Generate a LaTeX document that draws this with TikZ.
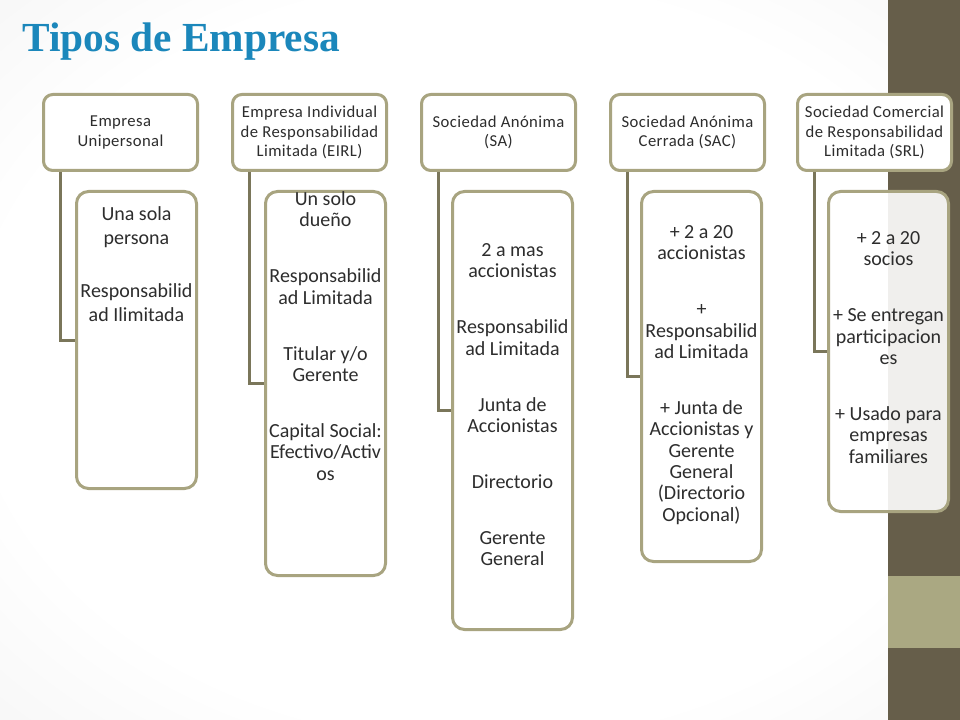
\documentclass[tikz,border=0pt]{standalone}
\usepackage{fontspec}
\setmainfont{Carlito}
\newfontfamily\titlefont{Liberation Serif}
\newfontfamily\hdrfont[LetterSpace=2.5]{Carlito}
\usepackage{xcolor}
\usetikzlibrary{positioning}

\definecolor{tituloazul}{RGB}{27,135,187}
\definecolor{bordeoliva}{RGB}{168,164,128}
\definecolor{lineaoliva}{RGB}{122,118,90}
\definecolor{barraoscura}{RGB}{102,94,74}
\definecolor{barraclara}{RGB}{170,168,130}
\definecolor{textogris}{RGB}{45,45,45}
\definecolor{fondomedio}{RGB}{236,236,236}
\definecolor{fondoborde}{RGB}{198,198,198}

\pgfdeclareradialshading{fondo}{\pgfpoint{0bp}{0bp}}{color(0bp)=(white); color(26bp)=(white); color(50bp)=(fondomedio); color(71bp)=(fondoborde)}

\begin{document}
\begin{tikzpicture}[
    x=0.75pt, y=-0.75pt,
    hdr/.style={
        draw=bordeoliva,
        line width=2.25pt,
        rounded corners=7pt,
        fill=white,
        minimum width=115.5pt,
        minimum height=57pt,
        inner sep=1pt,
        align=center,
        text=textogris,
        font=\hdrfont\fontsize{12.5}{14.5}\selectfont
    },
    det/.style={
        draw=bordeoliva,
        line width=2.25pt,
        rounded corners=9pt,
        fill=white,
        fill opacity=0.9,
        minimum width=90pt
    },
    dtxt/.style={
        align=center,
        inner sep=0pt,
        text=textogris,
        font=\fontsize{15}{16}\selectfont
    },
    link/.style={
        draw=lineaoliva,
        line width=2.25pt
    }
]

%-------------------------------------------------
% Slide background
%-------------------------------------------------

\useasboundingbox (0,0) rectangle (960,720);
\shade[shading=fondo] (0,0) rectangle (960,720);
\fill[barraoscura] (888,0) rectangle (960,720);
\fill[barraclara] (888,576) rectangle (960,648);

\node[anchor=base west, inner sep=0pt, text=tituloazul,
      font=\titlefont\bfseries\fontsize{31}{36}\selectfont] (titulo) at (22,52)
{Tipos de Empresa};

%-------------------------------------------------
% Empresa Unipersonal
%-------------------------------------------------

\node[hdr, anchor=north west] (h1) at (42,93) {Empresa\\Unipersonal};
\node[det, anchor=north west, minimum height=222.75pt] (d1) at ([shift={(33,18)}]h1.south west) {};
\draw[link] ([xshift=13.5pt]h1.south west) |- (d1.west);
\node[dtxt, font=\fontsize{15}{18}\selectfont, below=12pt of d1.north] (t1)
{Una sola\\persona\\[21.75pt]
Responsabilid\\ad Ilimitada};

%-------------------------------------------------
% EIRL
%-------------------------------------------------

\node[hdr, anchor=north west] (h2) at (231,93) {Empresa Individual\\de Responsabilidad\\Limitada (EIRL)};
\node[det, anchor=north west, minimum height=288pt] (d2) at ([shift={(33,18)}]h2.south west) {};
\draw[link] ([xshift=13.5pt]h2.south west) |- (d2.west);
\node[dtxt, below=1pt of d2.north] (t2)
{Un solo\\due\~no\\[26pt]
Responsabilid\\ad Limitada\\[26pt]
Titular y/o\\Gerente\\[26pt]
Capital Social:\\Efectivo/Activ\\os};

%-------------------------------------------------
% Sociedad Anonima
%-------------------------------------------------

\node[hdr, anchor=north west] (h3) at (420,93) {Sociedad An\'onima\\(SA)};
\node[det, anchor=north west, minimum height=328.5pt] (d3) at ([shift={(31,18)}]h3.south west) {};
\draw[link] ([xshift=13.5pt]h3.south west) |- (d3.west);
\node[dtxt, below=40pt of d3.north] (t3)
{2 a mas\\accionistas\\[26pt]
Responsabilid\\ad Limitada\\[26pt]
Junta de\\Accionistas\\[26pt]
Directorio\\[26pt]
Gerente\\General};

%-------------------------------------------------
% Sociedad Anonima Cerrada
%-------------------------------------------------

\node[hdr, anchor=north west] (h4) at (609,93) {Sociedad An\'onima\\Cerrada (SAC)};
\node[det, anchor=north west, minimum height=277.5pt] (d4) at ([shift={(31,18)}]h4.south west) {};
\draw[link] ([xshift=13.5pt]h4.south west) |- (d4.west);
\node[dtxt, below=26.5pt of d4.north] (t4)
{+ 2 a 20\\accionistas\\[26pt]
+\\Responsabilid\\ad Limitada\\[26pt]
+ Junta de\\Accionistas y\\Gerente\\General\\(Directorio\\Opcional)};

%-------------------------------------------------
% SRL
%-------------------------------------------------

\node[hdr, anchor=north west] (h5) at (796,93) {Sociedad Comercial\\de Responsabilidad\\Limitada (SRL)};
\node[det, anchor=north west, minimum height=240pt] (d5) at ([shift={(31,18)}]h5.south west) {};
\draw[link] ([xshift=13.5pt]h5.south west) |- (d5.west);
\node[dtxt, below=31pt of d5.north] (t5)
{+ 2 a 20\\socios\\[26pt]
+ Se entregan\\participacion\\es\\[26pt]
+ Usado para\\empresas\\familiares};

\end{tikzpicture}
\end{document}
